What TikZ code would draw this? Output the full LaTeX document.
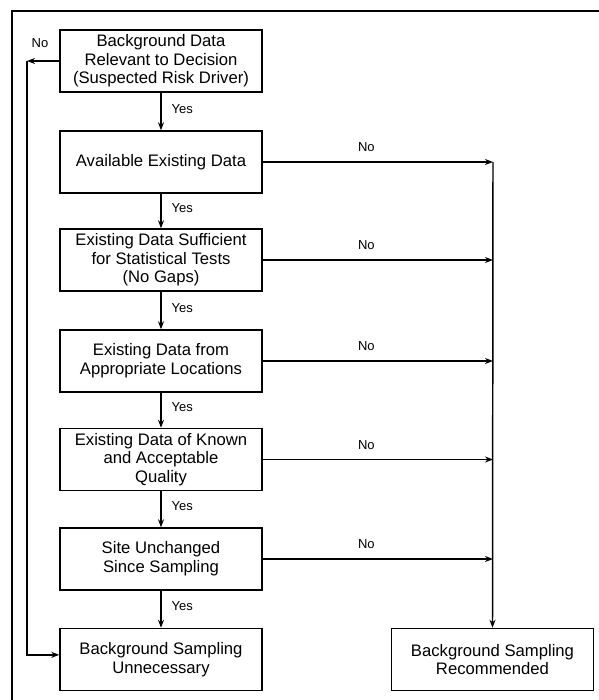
\documentclass[tikz,border=0pt]{standalone}
\usepackage{fontspec}
\setmainfont{Liberation Sans}
\usetikzlibrary{arrows.meta}

\tikzset{every picture/.style={line width=1.1pt}}
\tikzset{
  box/.style={draw, minimum width=151.5pt, minimum height=46.5pt, inner sep=0pt, align=center,
    font=\fontsize{12.5}{14}\selectfont},
  yeslab/.style={font=\fontsize{9.75}{11}\selectfont, anchor=west, inner sep=0pt, xshift=7.5pt, yshift=2pt},
  nolab/.style={font=\fontsize{9.75}{11}\selectfont, above=7pt, inner sep=0pt},
  arr/.style={-{Stealth[length=6pt,width=4.5pt]}}
}

\begin{document}
\begin{tikzpicture}[x=0.75pt,y=0.75pt,yscale=-1,xscale=1]
		\useasboundingbox (0,0) rectangle (599,700);

		%Frame
		\draw    (12,700) -- (12,11) -- (599,11) ;

		% Boxes
		\node [box] (relevant) at (161,61) {Background Data\\Relevant to Decision\\(Suspected Risk Driver)};
		\node [box] (avail) at (161,162) {Available Existing Data};
		\node [box] (suff) at (161,260) {Existing Data Sufficient\\for Statistical Tests\\(No Gaps)};
		\node [box] (loc) at (161,361) {Existing Data from\\Appropriate Locations};
		\node [box] (qual) at (161,459.5) {Existing Data of Known\\and Acceptable\\Quality};
		\node [box] (site) at (161,559) {Site Unchanged\\Since Sampling};
		\node [box] (unnec) at (161,659.5) {Background Sampling\\Unnecessary};
		\node [box] (recomm) at (492.5,659.5) {Background Sampling\\Recommended};

		% Yes arrows
		\draw [arr] (relevant) -- node [yeslab] {Yes} (avail);
		\draw [arr] (avail) -- node [yeslab] {Yes} (suff);
		\draw [arr] (suff) -- node [yeslab] {Yes} (loc);
		\draw [arr] (loc) -- node [yeslab] {Yes} (qual);
		\draw [arr] (qual) -- node [yeslab] {Yes} (site);
		\draw [arr] (site) -- node [yeslab] {Yes} (unnec);

		%Left No line
		\coordinate (leftc) at (27,61);
		\draw [arr] (relevant.west) -- (leftc);
		\draw [arr] (leftc) |- ([yshift=-3.5pt]unnec.west);
		\node [font=\fontsize{9.75}{11}\selectfont, inner sep=0pt] (leftno) at (40,43) {No};

		%Right No lines
		\coordinate (rightc) at (493,162);
		\draw [arr] (avail.east) -- node [nolab, pos=0.45] {No} (rightc);
		\draw [arr] (suff.east) -- node [nolab, pos=0.45] {No} (suff.east -| rightc);
		\draw [arr] (loc.east) -- node [nolab, pos=0.45] {No} (loc.east -| rightc);
		\draw [arr] (qual.east) -- node [nolab, pos=0.45] {No} (qual.east -| rightc);
		\draw [arr] (site.east) -- node [nolab, pos=0.45] {No} (site.east -| rightc);
		\draw [arr] (rightc) -- (recomm.north);
	\end{tikzpicture}
\end{document}
